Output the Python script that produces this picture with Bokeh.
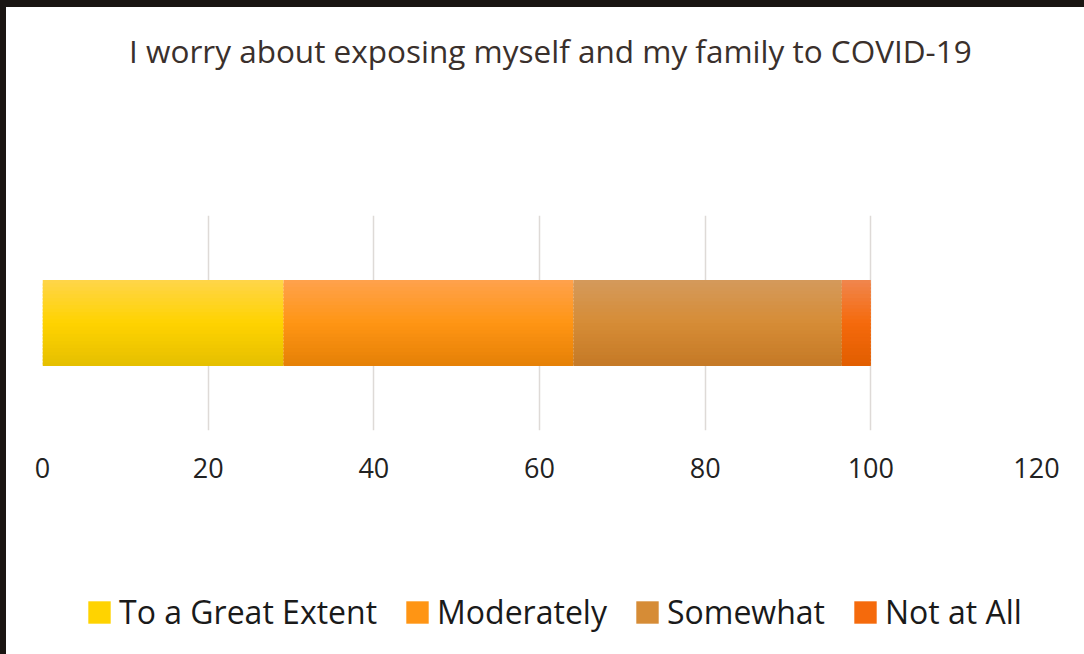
import numpy as np
from bokeh.plotting import figure
from bokeh.models import (ColumnDataSource, FactorRange, Legend, LegendItem, Label,
                          FixedTicker, Spacer)
from bokeh.transform import dodge
from bokeh.layouts import row, column
from bokeh.embed import file_html
from bokeh.resources import INLINE

# ---------------- data ----------------
title_text = "I worry about exposing myself and my family to COVID-19"
categories = ["COVID-19 worry"]
series_names = ["To a Great Extent", "Moderately", "Somewhat", "Not at All"]
to_a_great_extent = [29.1]
moderately = [35.0]
somewhat = [32.4]
not_at_all = [3.5]
x_ticks = [0, 20, 40, 60, 80, 100, 120]

# ---------------- styles ----------------
gradients = {
    "To a Great Extent": ("#FFD54A", "#FFD300", "#E5BF00"),
    "Moderately": ("#FFA24D", "#FF9514", "#E58006"),
    "Somewhat": ("#D49A5C", "#D68C36", "#C47926"),
    "Not at All": ("#F0864E", "#F56A0C", "#E15D00"),
}
FONT = "Open Sans"
BAR_H = 0.4
N_SLICES = 24


def hex2rgb(h):
    h = h.lstrip("#")
    return np.array([int(h[i:i + 2], 16) for i in (0, 2, 4)], dtype=float)


def rgb2hex(c):
    c = np.clip(np.round(c), 0, 255).astype(int)
    return "#%02x%02x%02x" % tuple(c)


def grad_color(stops, t):
    a, m, b = (hex2rgb(s) for s in stops)
    if t < 0.5:
        return rgb2hex(a + (m - a) * (t / 0.5))
    return rgb2hex(m + (b - m) * ((t - 0.5) / 0.5))


values = [to_a_great_extent, moderately, somewhat, not_at_all]
lefts = []
rights = []
acc = np.zeros(len(categories))
for v in values:
    lefts.append(acc.copy())
    acc = acc + np.array(v)
    rights.append(acc.copy())


def strip(height):
    f = figure(width=1078, height=height, x_range=(0, 1), y_range=(0, 1),
               output_backend="svg", toolbar_location=None,
               min_border_left=36, min_border_right=48, min_border_top=0,
               min_border_bottom=0)
    f.axis.visible = False
    f.grid.visible = False
    f.outline_line_color = None
    f.border_fill_color = "white"
    f.title.visible = False
    return f


# ---------------- title strip ----------------
tp = strip(86)
tp.add_layout(Label(x=0.511, y=0.5, text=title_text, text_align="center",
                    text_baseline="middle", text_font=FONT, text_font_size="31.5px",
                    text_color="#3a302c"))

# ---------------- main chart ----------------
p = figure(width=1078, height=407, y_range=FactorRange(factors=categories),
           x_range=(0, 120), output_backend="svg", toolbar_location=None,
           min_border_left=36, min_border_right=48, min_border_top=122,
           min_border_bottom=70)
p.outline_line_color = None
p.background_fill_color = "white"
p.border_fill_color = "white"
p.title.visible = False

for name, l, r in zip(series_names, lefts, rights):
    src = ColumnDataSource(dict(y=categories, left=list(l), right=list(r)))
    for i in range(N_SLICES):
        t = (i + 0.5) / N_SLICES
        off = BAR_H / 2 - (i + 0.5) * BAR_H / N_SLICES
        c = grad_color(gradients[name], t)
        h = BAR_H / N_SLICES * (1.0 if i == N_SLICES - 1 else 1.6)
        off_adj = off - (h - BAR_H / N_SLICES) / 2
        p.hbar(y=dodge("y", off_adj, range=p.y_range), left="left", right="right",
               height=h, source=src, fill_color=c, line_color=None)

p.yaxis.visible = False
xa = p.xaxis[0]
xa.ticker = FixedTicker(ticks=x_ticks)
xa.axis_line_color = None
xa.major_tick_line_color = None
xa.minor_tick_line_color = None
xa.major_label_text_font = FONT
xa.major_label_text_font_size = "27px"
xa.major_label_text_color = "#222222"
xa.major_label_standoff = 21

p.ygrid.visible = False
p.xgrid.grid_line_color = "#dedad7"
p.xgrid.grid_line_width = 1.5

# ---------------- legend strip ----------------
lg = strip(154)
legend_items = []
for name in series_names:
    key_src = ColumnDataSource(dict(y=[np.nan], left=[np.nan], right=[np.nan]))
    rend = lg.hbar(y="y", left="left", right="right", height=0.1, source=key_src,
                   fill_color=gradients[name][1], line_color=None)
    legend_items.append(LegendItem(label=name, renderers=[rend]))
legend = Legend(items=legend_items, orientation="horizontal", location=(43, 21),
                label_text_font=FONT, label_text_font_size="32px",
                label_text_color="#1a1a1a", glyph_width=28, glyph_height=28,
                label_standoff=6, spacing=26, border_line_color=None,
                background_fill_alpha=0, margin=0, padding=0)
lg.add_layout(legend)

frame_color = "#1a1512"
left_bar = Spacer(width=6, height=654, styles={"background-color": frame_color})
top_bar = Spacer(width=1078, height=7, styles={"background-color": frame_color})
layout = row(left_bar, column(top_bar, tp, p, lg, spacing=0), spacing=0)

open("out.html", "w").write(file_html(layout, INLINE))
